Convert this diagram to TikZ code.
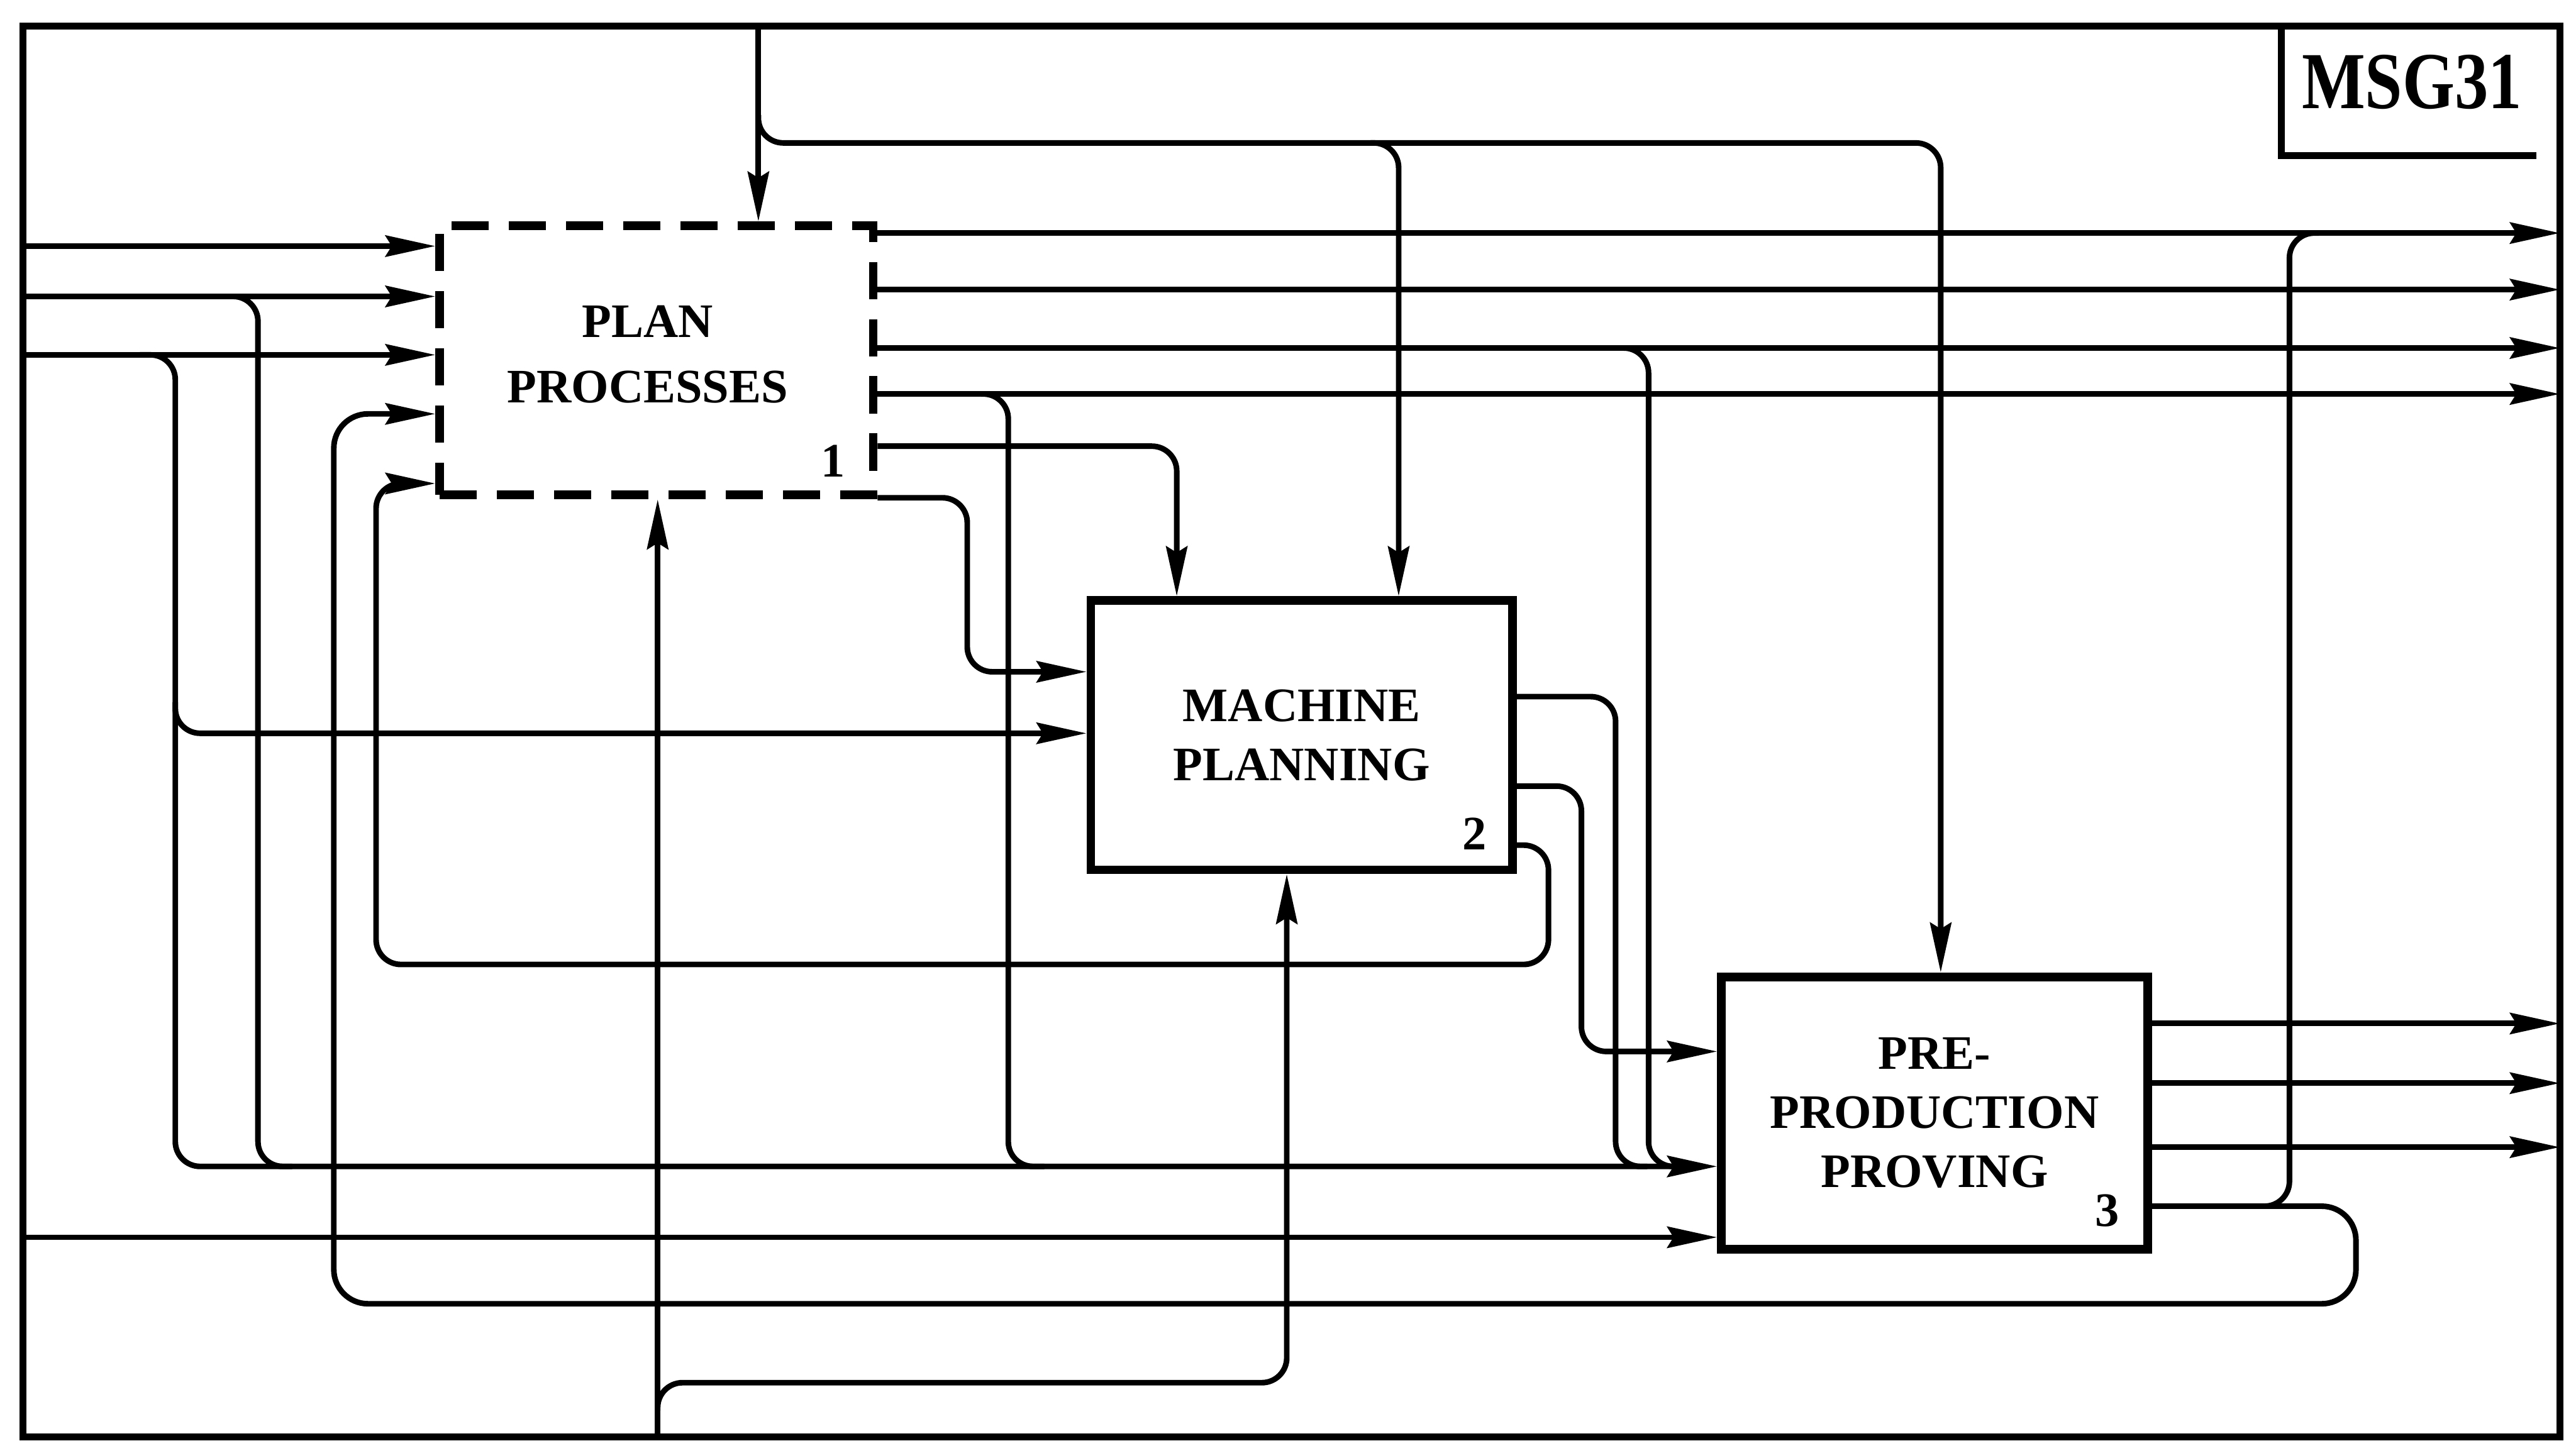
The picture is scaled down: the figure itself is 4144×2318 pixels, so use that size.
\documentclass[tikz,border=0pt]{standalone}
\usepackage{fontspec}
\usepackage{graphicx}
\setmainfont{Liberation Serif}
\usetikzlibrary{arrows.meta}
\begin{document}
\begin{tikzpicture}[x=0.01cm,y=-0.01cm,
  conn/.style={line width=0.09cm, rounded corners=0.4cm},
  arr/.style={-{Stealth[length=0.8cm,width=0.34cm,inset=0.1cm]}},
  procbox/.style={draw, line width=0.14cm, inner sep=0pt, align=center,
    font=\bfseries\fontsize{22}{27}\selectfont},
  boxtext/.style={inner sep=0pt, align=center, font=\bfseries\fontsize{22}{27}\selectfont},
  numlabel/.style={font=\bfseries\fontsize{22}{27}\selectfont, inner sep=0pt},
  framestyle/.style={line width=0.11cm}]
\useasboundingbox (0,0) rectangle (4144,2318);
% frame
\coordinate (FL) at (37,0);
\coordinate (FR) at (4118,0);
\coordinate (FT) at (0,42);
\coordinate (FB) at (0,2312);
\draw[framestyle] (FL |- FT) rectangle (FR |- FB);
% title box
\draw[framestyle] (FT -| 3670,0) -- (3670,250) -- (4080,250);
\node[font=\bfseries\fontsize{37}{40}\selectfont, inner sep=0pt] (msg) at (3880,132) {\scalebox{0.83}[1]{MSG31}};
% boxes
\node[procbox, dash pattern=on 0.6cm off 0.32cm, minimum width=6.97cm, minimum height=4.33cm] (b1) at (1056,580) {};
\node[boxtext] (t1) at (1042,570) {PLAN\\[3pt]PROCESSES};
\node[procbox, minimum width=6.78cm, minimum height=4.33cm] (b2) at (2094,1183) {MACHINE\\PLANNING};
\node[procbox, minimum width=6.85cm, minimum height=4.38cm] (b3) at (3112,1791) {PRE-\\PRODUCTION\\PROVING};
\node[numlabel] (n1) at (1340,742) {1};
\node[numlabel] (n2) at (2372,1342) {2};
\node[numlabel] (n3) at (3390,1948) {3};
% controls from top
\draw[conn,arr] (FT -| 1220,0) -- (b1.north -| 1220,0);
\draw[conn,arr] (1220,185) -- (1220,230) -- (3122,230) -- (b3.north -| 3122,0);
\draw[conn,arr] (2205,230) -- (2250,230) -- (b2.north -| 2250,0);
% inputs from left
\draw[conn,arr] (FL |- 0,396) -- (b1.west |- 0,396);
\draw[conn,arr] (FL |- 0,477) -- (b1.west |- 0,477);
\draw[conn,arr] (FL |- 0,571) -- (b1.west |- 0,571);
\draw[conn,arr] (225,571) -- (282,571) -- (282,1877) -- (b3.west |- 0,1877);
\draw[conn] (360,477) -- (415,477) -- (415,1877) -- (470,1877);
\draw[conn,arr] (282,1130) -- (282,1180) -- (b2.west |- 0,1180);
\draw[conn,arr] (FL |- 0,1991) -- (b3.west |- 0,1991);
% outputs of box 1
\draw[conn,arr] (b1.east |- 0,375) -- (FR |- 0,375);
\draw[conn,arr] (b1.east |- 0,466) -- (FR |- 0,466);
\draw[conn,arr] (b1.east |- 0,560) -- (FR |- 0,560);
\draw[conn,arr] (b1.east |- 0,634) -- (FR |- 0,634);
\draw[conn,arr] (b1.east |- 0,718) -- (1893,718) -- (b2.north -| 1893,0);
\draw[conn,arr] (b1.east |- 0,801) -- (1556,801) -- (1556,1081) -- (b2.west |- 0,1081);
\draw[conn] (1578,634) -- (1622,634) -- (1622,1877) -- (1680,1877);
\draw[conn] (2608,560) -- (2652,560) -- (2652,1877) -- (2705,1877);
% outputs of box 2
\draw[conn] (b2.east |- 0,1121) -- (2599,1121) -- (2599,1877) -- (2650,1877);
\draw[conn,arr] (b2.east |- 0,1265) -- (2544,1265) -- (2544,1692) -- (b3.west |- 0,1692);
\draw[conn,arr] (b2.east |- 0,1360) -- (2491,1360) -- (2491,1552) -- (605,1552) -- (605,778) -- (b1.west |- 0,778);
% outputs of box 3
\draw[conn,arr] (b3.east |- 0,1647) -- (FR |- 0,1647);
\draw[conn,arr] (b3.east |- 0,1743) -- (FR |- 0,1743);
\draw[conn,arr] (b3.east |- 0,1846) -- (FR |- 0,1846);
\draw[conn,arr,rounded corners=0.55cm] (b3.east |- 0,1941) -- (3790,1941) -- (3790,2098) -- (537,2098) -- (537,666) -- (b1.west |- 0,666);
\draw[conn] (3635,1941) -- (3683,1941) -- (3683,375) -- (3730,375);
% mechanisms from bottom
\draw[conn,arr] (FB -| 1058,0) -- (b1.south -| 1058,0);
\draw[conn,arr] (1058,2270) -- (1058,2225) -- (2070,2225) -- (b2.south -| 2070,0);
\end{tikzpicture}
\end{document}
